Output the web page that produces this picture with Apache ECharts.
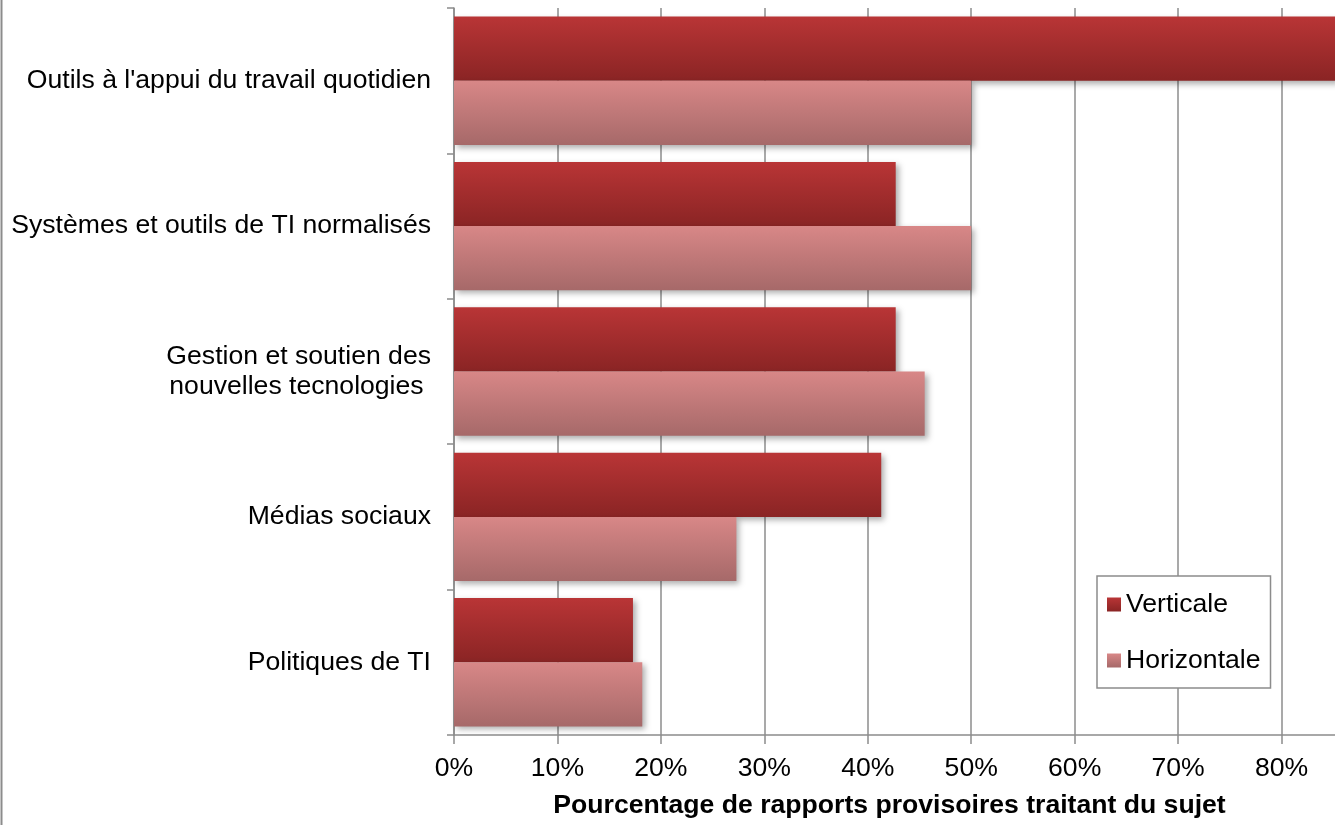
<!DOCTYPE html>
<html>
<head>
<meta charset="utf-8">
<title>Pourcentage de rapports provisoires traitant du sujet</title>
<script src="https://cdn.jsdelivr.net/npm/echarts@6/dist/echarts.min.js"></script>
<style>
  html, body { margin: 0; padding: 0; background: #fff; }
  #chart { width: 1335px; height: 825px; }
</style>
</head>
<body>
<div id="chart"></div>
<script>
// Topics, listed top to bottom
const categories = [
  "Outils à l'appui du travail quotidien",
  'Systèmes et outils de TI normalisés',
  'Gestion et soutien des\nnouvelles tecnologies ',
  'Médias sociaux',
  'Politiques de TI'
];
const seriesNames = ['Verticale', 'Horizontale'];
// Share of draft reports covering each topic (%)
const verticale = [85.3, 42.7, 42.7, 41.3, 17.3];
const horizontale = [50.0, 50.0, 45.5, 27.3, 18.2];
const xTicks = [0, 10, 20, 30, 40, 50, 60, 70, 80, 90];
const xTitle = 'Pourcentage de rapports provisoires traitant du sujet';

const FONT = '"Liberation Sans", Arial, sans-serif';
const FS = 26.6;

function grad(top, bottom) {
  return new echarts.graphic.LinearGradient(0, 0, 0, 1, [
    { offset: 0, color: top },
    { offset: 1, color: bottom }
  ]);
}

const barShadow = {
  shadowColor: 'rgba(0,0,0,0.32)',
  shadowBlur: 6,
  shadowOffsetX: 3,
  shadowOffsetY: 3
};

const chart = echarts.init(document.getElementById('chart'), null, { renderer: 'canvas' });

// The plot area runs past the right edge of the page, so the 90% column is cut off
chart.setOption({
  backgroundColor: '#fff',
  animation: false,
  grid: {
    left: 454, width: 931, top: 8, height: 727,
    containLabel: false,
    outerBoundsMode: 'none'
  },
  xAxis: {
    type: 'value',
    min: xTicks[0],
    max: xTicks[xTicks.length - 1],
    interval: xTicks[1] - xTicks[0],
    axisLine: { show: true, lineStyle: { color: '#8c8c8c', width: 1.5 } },
    axisTick: { show: true, length: 9, lineStyle: { color: '#8c8c8c', width: 1.5 } },
    axisLabel: {
      formatter: '{value}%',
      color: '#000',
      fontFamily: FONT,
      fontSize: FS,
      margin: 20
    },
    splitLine: { show: true, lineStyle: { color: '#8c8c8c', width: 1.5 } }
  },
  yAxis: {
    type: 'category',
    data: categories,
    inverse: true,
    axisLine: { show: true, lineStyle: { color: '#8c8c8c', width: 1.5 } },
    axisTick: { show: true, length: 7, alignWithLabel: false, lineStyle: { color: '#8c8c8c', width: 1.5 } },
    axisLabel: {
      color: '#000',
      fontFamily: FONT,
      fontSize: FS,
      lineHeight: 30,
      margin: 23,
      align: 'right'
    },
    splitLine: { show: false }
  },
  legend: {
    orient: 'vertical',
    left: 1097,
    top: 576,
    data: seriesNames,
    icon: 'rect',
    itemWidth: 14,
    itemHeight: 14,
    itemGap: 29,
    padding: [15, 10, 14, 10],
    borderColor: '#8c8c8c',
    borderWidth: 1.5,
    borderRadius: 0,
    backgroundColor: '#fff',
    textStyle: { color: '#000', fontFamily: FONT, fontSize: FS, lineHeight: 26 }
  },
  series: [
    {
      name: seriesNames[0],
      type: 'bar',
      data: verticale,
      barGap: '0%',
      barCategoryGap: '11.7%',
      itemStyle: Object.assign({ color: grad('#b93536', '#8a2424') }, barShadow)
    },
    {
      name: seriesNames[1],
      type: 'bar',
      data: horizontale,
      barGap: '0%',
      barCategoryGap: '11.7%',
      itemStyle: Object.assign({ color: grad('#d88787', '#a66969') }, barShadow)
    }
  ],
  graphic: [
    {
      type: 'line',
      shape: { x1: 1.5, y1: 0, x2: 1.5, y2: 825 },
      style: { stroke: '#8c8c8c', lineWidth: 2 },
      silent: true
    },
    {
      type: 'text',
      x: 889.5,
      y: 806,
      style: {
        text: xTitle,
        fill: '#000',
        font: 'bold ' + FS + 'px ' + FONT,
        textAlign: 'center',
        textVerticalAlign: 'middle'
      },
      silent: true
    }
  ]
});
</script>
</body>
</html>
